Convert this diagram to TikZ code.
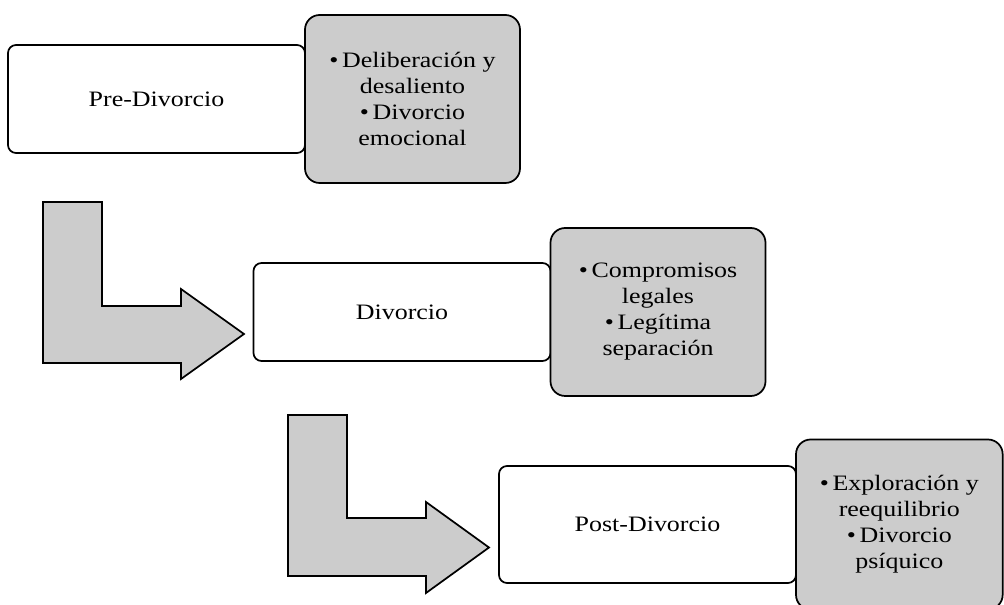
\documentclass[tikz,border=0pt]{standalone}
\usepackage{fontspec}
\setmainfont{Liberation Serif}[FakeStretch=1.18]
\usepackage{xcolor}
\usetikzlibrary{positioning}
\definecolor{boxgray}{HTML}{CCCCCC}

\begin{document}
\begin{tikzpicture}[
    x=0.75pt, y=-0.75pt,
    stage/.style={draw, line width=1.3pt, rounded corners=6pt, fill=white, minimum width=222.75pt,
                  inner sep=0pt, outer sep=0pt, align=center, font=\fontsize{16.5}{19.5}\selectfont},
    detail/.style={draw, line width=1.3pt, rounded corners=11pt, fill=boxgray, minimum width=161.25pt,
                   minimum height=126pt, inner sep=0pt, outer sep=0pt, align=center,
                   font=\fontsize{16.5}{19.5}\selectfont},
    larrow/.style={draw, line width=1.3pt, fill=boxgray, line join=miter}
]
\useasboundingbox (0,0) rectangle (1004,605);

\node[stage, minimum height=81pt] (pre) at (156.5,99) {Pre-Divorcio};
\node[detail, right=0pt of pre] (preinfo) {•\,Deliberación y\\desaliento\\•\,Divorcio\\emocional};

\node[stage, minimum height=73.5pt] (div) at (402,312) {Divorcio};
\node[detail, right=0pt of div] (divinfo) {•\,Compromisos\\legales\\•\,Legítima\\separación};

\node[stage, minimum height=87.75pt] (post) at (647.5,524.5) {Post-Divorcio};
\node[detail, minimum width=155pt, minimum height=127.5pt, right=0pt of post] (postinfo)
    {•\,Exploración y\\reequilibrio\\•\,Divorcio\\psíquico};

\draw[larrow] (43,202) -- (102,202) -- (102,306) -- (181,306) -- (181,289) -- (244,334)
    -- (181,379) -- (181,363) -- (43,363) -- cycle;
\draw[larrow] (288,415) -- (347,415) -- (347,518) -- (426,518) -- (426,502) -- (489,547.5)
    -- (426,593) -- (426,576) -- (288,576) -- cycle;
\end{tikzpicture}
\end{document}
